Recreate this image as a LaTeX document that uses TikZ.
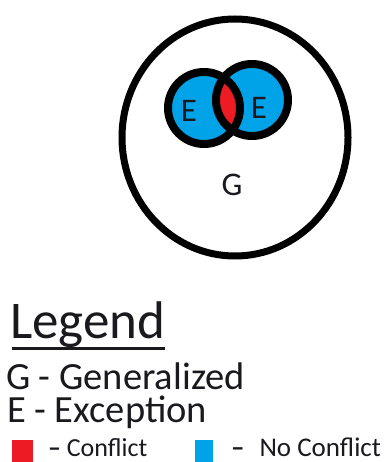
\documentclass[tikz,border=0pt]{standalone}
\usepackage{fontspec}
\setmainfont{Carlito}
\definecolor{pblue}{RGB}{0,162,232}
\definecolor{pred}{RGB}{237,28,36}
\definecolor{ink}{RGB}{25,25,30}
\begin{document}
\begin{tikzpicture}[x=1pt,y=-1pt,
  lbl/.style={inner sep=0pt,outer sep=0pt,text=ink},
  legtext/.style={lbl,anchor=base west}]
\useasboundingbox (0,0) rectangle (384,462);
% outer set G
\draw[line width=7pt] (235,137.5) ellipse [x radius=113, y radius=118.5];
% exception sets
\fill[pblue] (204,108) circle [radius=36];
\fill[pblue] (252,100) circle [radius=36];
\begin{scope}
  \clip (204,108) circle [radius=36];
  \fill[pred] (252,100) circle [radius=36];
\end{scope}
\draw[line width=8pt] (204,108) circle [radius=36];
\draw[line width=8pt] (252,100) circle [radius=36];
\node[lbl,font=\fontsize{33}{33}\selectfont] (e1) at (189,111) {E};
\node[lbl,font=\fontsize{33}{33}\selectfont] (e2) at (259,108) {E};
\node[lbl,font=\fontsize{33}{33}\selectfont] (g) at (232,185) {G};
% legend
\node[legtext,font=\fontsize{53}{53}\selectfont] (leg) at (10,338) {Legend};
\draw[line width=3pt,ink] (12,348) -- (165,348);
\node[legtext,font=\fontsize{38.5}{38.5}\selectfont,text depth=0pt] (lg) at (6,389) {G - Generalized};
\node[legtext,font=\fontsize{38.5}{38.5}\selectfont,text height=26pt] (le) at (7,422) {E - Exception};
\fill[pred] (12,440) rectangle (33,462);
\fill[pblue] (195,440) rectangle (213,462);
\node[legtext,font=\fontsize{26}{26}\selectfont,text depth=0pt] (lc) at (48,456) {\textbf{–} Conflict};
\node[legtext,font=\fontsize{27}{27}\selectfont,text depth=0pt] (ln) at (231,456) {\textbf{–}\,\, No Conflict};
\end{tikzpicture}
\end{document}
